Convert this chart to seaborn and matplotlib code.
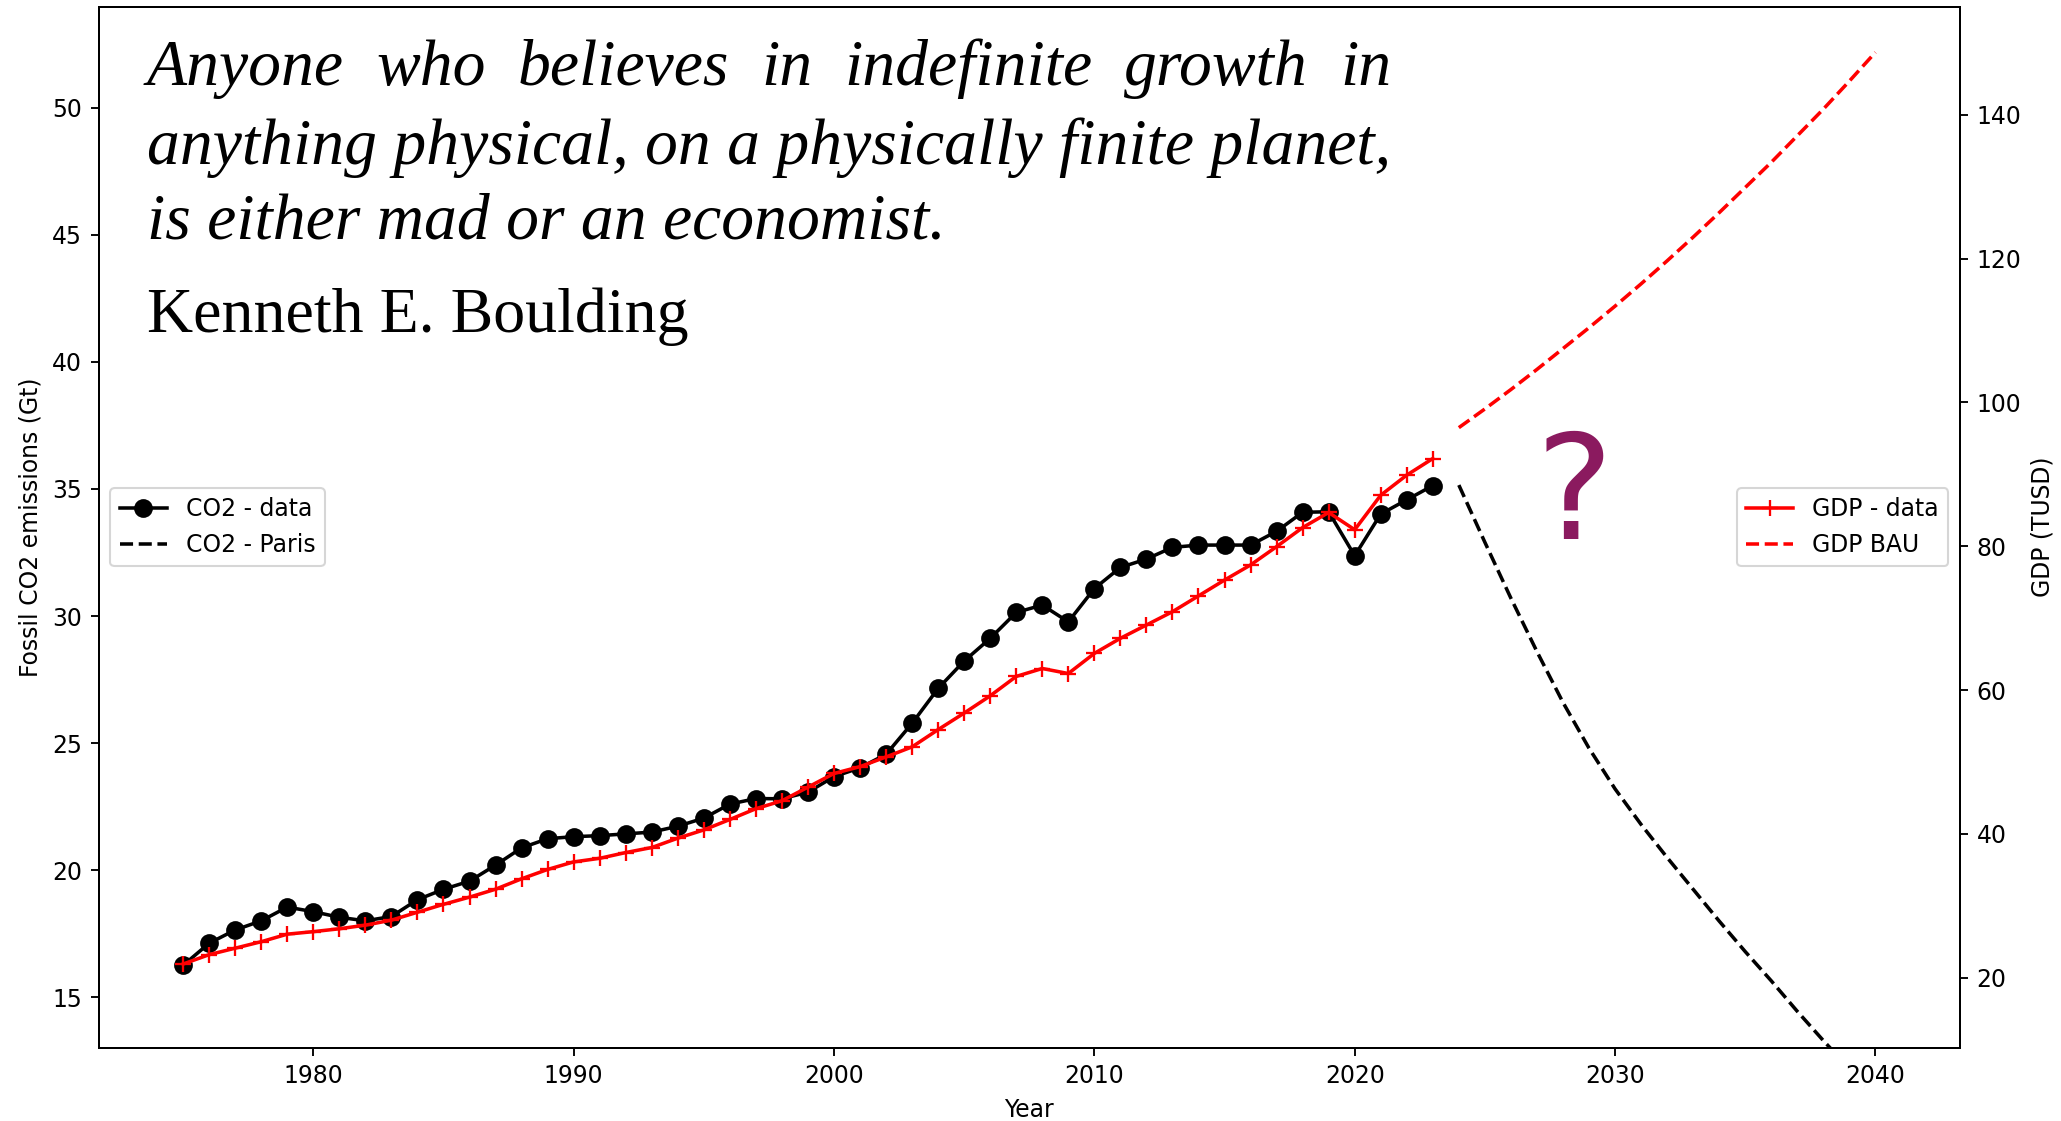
import numpy as np
import pandas as pd
import matplotlib
matplotlib.use("Agg")
import matplotlib.pyplot as plt
from matplotlib.ticker import MultipleLocator
import seaborn as sns

# values
years_data = list(range(1975, 2024))
co2_data = [16.26, 17.13, 17.65, 18.01, 18.55, 18.37, 18.15, 18.01, 18.18, 18.84,
            19.25, 19.57, 20.20, 20.88, 21.24, 21.32, 21.36, 21.43, 21.50, 21.73,
            22.05, 22.60, 22.82, 22.81, 23.07, 23.68, 24.03, 24.56, 25.78, 27.15,
            28.23, 29.12, 30.14, 30.43, 29.77, 31.08, 31.91, 32.24, 32.70, 32.79,
            32.79, 32.79, 33.33, 34.08, 34.10, 32.37, 34.01, 34.57, 35.13]
gdp_data = [21.9, 23.2, 24.1, 25.0, 26.05, 26.4, 26.8, 27.3, 28.0, 29.1,
            30.2, 31.2, 32.3, 33.75, 35.05, 36.1, 36.6, 37.4, 38.1, 39.4,
            40.55, 42.0, 43.5, 44.6, 46.5, 48.4, 49.35, 50.7, 52.1, 54.5,
            56.8, 59.2, 61.9, 63.0, 62.3, 65.1, 67.2, 69.05, 70.9, 73.1,
            75.3, 77.4, 79.95, 82.6, 84.7, 82.3, 87.1, 89.9, 92.2]

years_proj = list(range(2024, 2041))
co2_paris = [35.15, 32.9, 30.7, 28.6, 26.6, 24.8, 23.2, 21.8, 20.5, 19.25,
             18.0, 16.8, 15.65, 14.45, 13.3, 12.2, 11.1]
gdp_bau = [96.5, 99.1, 101.8, 104.6, 107.5, 110.4, 113.4, 116.5, 119.7, 123.0,
           126.4, 129.9, 133.4, 137.1, 140.8, 144.7, 148.7]

quote_lines = ["Anyone who believes in indefinite growth in",
               "anything physical, on a physically finite planet,",
               "is either mad or an economist."]
author = "Kenneth E. Boulding"

hist = pd.DataFrame({"Year": years_data, "CO2": co2_data, "GDP": gdp_data})
proj = pd.DataFrame({"Year": years_proj, "CO2": co2_paris, "GDP": gdp_bau})

s = 1.13  # the reference looks saved at a slightly larger dpi
plt.rcParams.update({
    "font.size": 10 * s,
    "lines.linewidth": 1.5 * s,
    "axes.linewidth": 0.8 * s,
    "xtick.major.size": 3.5 * s, "ytick.major.size": 3.5 * s,
    "xtick.major.width": 0.8 * s, "ytick.major.width": 0.8 * s,
    "xtick.major.pad": 3.5 * s, "ytick.major.pad": 3.5 * s,
    "axes.labelpad": 4.0 * s,
})

W, H, DPI = 2061, 1121, 150
fig, ax1 = plt.subplots(figsize=(W / DPI, H / DPI), dpi=DPI)
fig.subplots_adjust(left=0.0478, right=0.951, top=0.9941, bottom=0.0654)
ax2 = ax1.twinx()

sns.lineplot(data=hist, x="Year", y="CO2", ax=ax1, color="k", marker="o",
             markersize=8, mec="k", mew=1, label="CO2 - data")
sns.lineplot(data=proj, x="Year", y="CO2", ax=ax1, color="k", linestyle="--",
             label="CO2 - Paris")
sns.lineplot(data=hist, x="Year", y="GDP", ax=ax2, color="r", marker="+",
             markersize=7.5, mec="r", mew=1.1, label="GDP - data")
sns.lineplot(data=proj, x="Year", y="GDP", ax=ax2, color="r", linestyle="--",
             label="GDP BAU")

ax1.set_ylim(13.02, 53.97)
ax2.set_ylim(10.26, 155.06)
ax1.yaxis.set_major_locator(MultipleLocator(5))
ax2.yaxis.set_major_locator(MultipleLocator(20))
ax1.set_xlabel("Year")
ax1.set_ylabel("Fossil CO2 emissions (Gt)")
ax2.set_ylabel("GDP (TUSD)")
ax1.legend(loc="center left")
ax2.legend(loc="center right")

# quote, first line justified to the width of the second
serif = ["Liberation Serif", "DejaVu Serif"]
qsize = 31.5
x0 = 147 / W
base = [85, 164.3, 238.3]
renderer = fig.canvas.get_renderer()
t2 = fig.text(x0, 1 - base[1] / H, quote_lines[1], fontsize=qsize, style="italic",
              family=serif, va="baseline")
fig.text(x0, 1 - base[2] / H, quote_lines[2], fontsize=qsize, style="italic",
         family=serif, va="baseline")
full_w = t2.get_window_extent(renderer).width
words = quote_lines[0].split()
objs = [fig.text(0, 1 - base[0] / H, w_, fontsize=qsize, style="italic",
                 family=serif, va="baseline") for w_ in words]
widths = [o.get_window_extent(renderer).width for o in objs]
gap = (full_w - sum(widths)) / (len(words) - 1)
xpos = x0 * W
for o, wd in zip(objs, widths):
    o.set_x(xpos / W)
    xpos += wd + gap
fig.text(x0, 1 - 331.7 / H, author, fontsize=30.7, family=serif, va="baseline")

fig.text(1574.5 / W, 1 - 539.3 / H, "?", fontsize=70, color="#8b1a5f",
         ha="center", va="baseline")

fig.savefig("out.png", dpi=DPI)
